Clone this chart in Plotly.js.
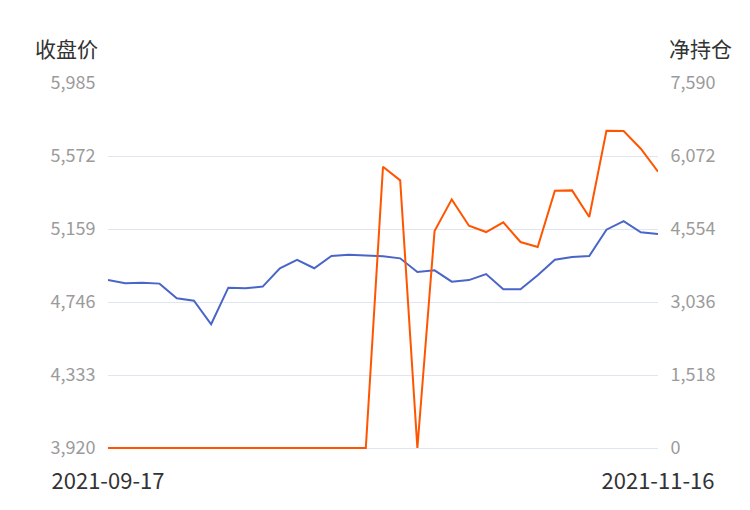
<!DOCTYPE html>
<html>
<head>
<meta charset="utf-8">
<script src="https://cdn.plot.ly/plotly-3.0.1.min.js"></script>
<style>
html,body{margin:0;padding:0;background:#fff;}
#chart{width:750px;height:510px;}
</style>
</head>
<body>
<div id="chart"></div>
<script>
var dates = ["2021-09-17","2021-09-22","2021-09-23","2021-09-24","2021-09-28","2021-09-29","2021-09-30",
  "2021-10-11","2021-10-12","2021-10-13","2021-10-14","2021-10-15","2021-10-18","2021-10-19","2021-10-20",
  "2021-10-21","2021-10-22","2021-10-25","2021-10-26","2021-10-27","2021-10-28","2021-10-29",
  "2021-11-01","2021-11-02","2021-11-03","2021-11-04","2021-11-05","2021-11-08","2021-11-09",
  "2021-11-11","2021-11-12","2021-11-15","2021-11-16"];
var closePrice = [4870,4852,4855,4850,4767,4753,4620,4827,4824,4833,4937,4985,4937,5006,5014,5010,
  5005,4993,4916,4925,4861,4870,4904,4818,4818,4897,4985,5000,5006,5155,5203,5140,5131];
var netPosition = [0,0,0,0,0,0,0,0,0,0,0,0,0,0,0,0,
  5848,5565,0,4511,5170,4622,4491,4692,4283,4179,5350,5357,4803,6597,6590,6223,5745];
var leftTicks = [3920,4333,4746,5159,5572,5985];
var rightTicks = [0,1518,3036,4554,6072,7590];
var leftTitle = "收盘价";
var rightTitle = "净持仓";

var FONT = "Noto Sans CJK SC, Noto Sans, sans-serif";

// extend the lower range by 2px so lines lying on the bottom grid line are not clipped
var plotH = 365, padPx = 2;
var lMin = leftTicks[0], lMax = leftTicks[leftTicks.length - 1];
var rMin = rightTicks[0], rMax = rightTicks[rightTicks.length - 1];
var lLow = lMin - padPx * (lMax - lMin) / plotH;
var rLow = rMin - padPx * (rMax - rMin) / plotH;

var traces = [
  {x: dates, y: closePrice, type: "scatter", mode: "lines", name: leftTitle,
   line: {color: "#4a65c8", width: 2}, yaxis: "y", hoverinfo: "x+y"},
  {x: dates, y: netPosition, type: "scatter", mode: "lines", name: rightTitle,
   line: {color: "#ff5500", width: 2}, yaxis: "y2", hoverinfo: "x+y"}
];

var layout = {
  width: 750, height: 510,
  margin: {l: 108, r: 92, t: 83, b: 62 - padPx, pad: 0},
  paper_bgcolor: "#fff", plot_bgcolor: "#fff",
  showlegend: false,
  font: {family: FONT},
  xaxis: {
    type: "category",
    tickvals: [dates[0], dates[dates.length - 1]],
    ticktext: [dates[0], dates[dates.length - 1]],
    showgrid: false, zeroline: false, showline: false,
    ticks: "outside", ticklen: 12, tickcolor: "rgba(0,0,0,0)",
    tickfont: {size: 22, color: "#333", family: FONT},
    range: [0, dates.length - 1]
  },
  yaxis: {
    range: [lLow, lMax],
    tickvals: leftTicks,
    ticktext: leftTicks.map(function(v){return v.toLocaleString("en-US");}),
    showgrid: true, gridcolor: "#e0e6f1", gridwidth: 1,
    zeroline: false, showline: false,
    ticks: "outside", ticklen: 8, tickcolor: "rgba(0,0,0,0)",
    tickfont: {size: 18, color: "#9b9b9b", family: FONT}
  },
  yaxis2: {
    overlaying: "y", side: "right",
    range: [rLow, rMax],
    tickvals: rightTicks,
    ticktext: rightTicks.map(function(v){return v.toLocaleString("en-US");}),
    showgrid: false, zeroline: false, showline: false,
    ticks: "outside", ticklen: 8, tickcolor: "rgba(0,0,0,0)",
    tickfont: {size: 18, color: "#9b9b9b", family: FONT}
  },
  annotations: [
    {text: leftTitle, xref: "paper", yref: "paper", x: -0.0145, y: 1 + 35 / (plotH + padPx),
     xanchor: "right", yanchor: "middle", showarrow: false,
     font: {size: 21, color: "#333", family: FONT}},
    {text: rightTitle, xref: "paper", yref: "paper", x: 1.0164, y: 1 + 35 / (plotH + padPx),
     xanchor: "left", yanchor: "middle", showarrow: false,
     font: {size: 21, color: "#333", family: FONT}}
  ]
};

Plotly.newPlot("chart", traces, layout, {displayModeBar: false, staticPlot: true});
</script>
</body>
</html>
